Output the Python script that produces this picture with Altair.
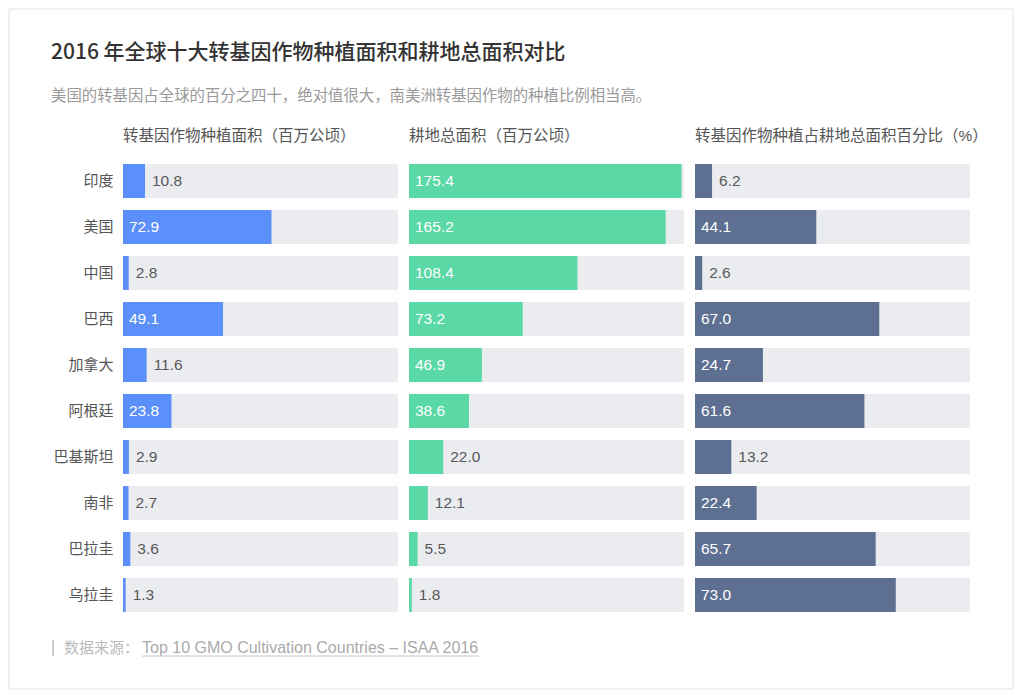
import altair as alt
import pandas as pd

countries = ["印度", "美国", "中国", "巴西", "加拿大", "阿根廷", "巴基斯坦", "南非", "巴拉圭", "乌拉圭"]
gmo_area = [10.8, 72.9, 2.8, 49.1, 11.6, 23.8, 2.9, 2.7, 3.6, 1.3]
arable_area = [175.4, 165.2, 108.4, 73.2, 46.9, 38.6, 22.0, 12.1, 5.5, 1.8]
gmo_share = [6.2, 44.1, 2.6, 67.0, 24.7, 61.6, 13.2, 22.4, 65.7, 73.0]

panel_titles = ["转基因作物种植面积（百万公顷）", "耕地总面积（百万公顷）", "转基因作物种植占耕地总面积百分比（%）"]
panel_colors = ["#5B8FF9", "#5AD8A6", "#5D7092"]
panel_max = [135, 177, 100]

title_text = "2016 年全球十大转基因作物种植面积和耕地总面积对比"
subtitle_text = "美国的转基因占全球的百分之四十，绝对值很大，南美洲转基因作物的种植比例相当高。"
source_label = "数据来源："
source_link = "Top 10 GMO Cultivation Countries – ISAA 2016"

W, H = 275, 460
FONT = "Liberation Sans, Noto Sans CJK SC, sans-serif"
CJK = "Noto Sans CJK SC, sans-serif"
INSIDE_PX = 40


def text_layer(txt, x, y, size, color, weight="normal", font=FONT):
    return alt.Chart(pd.DataFrame({"t": [txt]})).mark_text(
        align="left", baseline="middle", fontSize=size, color=color,
        fontWeight=weight, font=font
    ).encode(x=alt.value(x), y=alt.value(y), text="t:N")


def panel(i, values):
    df = pd.DataFrame({"country": countries, "v": values})
    base = alt.Chart(df)
    m = panel_max[i]
    if i == 0:
        axis = alt.Axis(title=None, domain=False, ticks=False, labelFontSize=15,
                        labelColor="#555555", labelPadding=10, labelFont=FONT)
    else:
        axis = None
    y = alt.Y("country:N", sort=countries,
              scale=alt.Scale(paddingInner=0.26, paddingOuter=0.13), axis=axis)
    bg = base.mark_bar(color="#EAECEF").encode(y=y, x=alt.value(0), x2=alt.value(W))
    bar = base.mark_bar(color=panel_colors[i]).encode(
        y=y, x=alt.X("v:Q", scale=alt.Scale(domain=[0, m], nice=False, zero=True), axis=None)
    )
    inside = base.transform_filter(f"datum.v / {m} * {W} >= {INSIDE_PX}").mark_text(
        align="left", baseline="middle", color="white", fontSize=15.5, font=FONT
    ).encode(y=y, x=alt.value(6), text=alt.Text("v:Q", format=".1f"))
    outside = base.transform_filter(f"datum.v / {m} * {W} < {INSIDE_PX}").mark_text(
        align="left", baseline="middle", dx=7, color="#595959", fontSize=15.5, font=FONT
    ).encode(y=y, x="v:Q", text=alt.Text("v:Q", format=".1f"))
    ptitle = text_layer(panel_titles[i], 0, -22, 15.5, "#555555")
    layers = [bg, bar, inside, outside, ptitle]
    if i == 0:
        one = pd.DataFrame({"a": [0]})
        frame = alt.Chart(one).mark_rect(fillOpacity=0, stroke="#E3E3E3", strokeWidth=1).encode(
            x=alt.value(-114), x2=alt.value(890), y=alt.value(-149), y2=alt.value(531)
        )
        t1 = text_layer(title_text, -72, -105, 21, "#333333", 500, CJK)
        t2 = text_layer(subtitle_text, -72, -62, 15.4, "#9A9A9A")
        src_bar = alt.Chart(one).mark_rule(color="#CCCCCC", strokeWidth=2).encode(
            x=alt.value(-70), y=alt.value(482), y2=alt.value(498)
        )
        src_lab = text_layer(source_label, -59, 490, 15, "#BBBBBB")
        src_link = text_layer(source_link, 19, 490, 16, "#AAAAAA")
        underline = alt.Chart(one).mark_rule(color="#C8C8C8", strokeWidth=1).encode(
            x=alt.value(19), x2=alt.value(356), y=alt.value(498)
        )
        layers = [frame, t1, t2, src_bar, src_lab, src_link, underline] + layers
    return alt.layer(*layers).properties(width=W, height=H)


chart = alt.hconcat(
    panel(0, gmo_area), panel(1, arable_area), panel(2, gmo_share),
    spacing=11, bounds="flush", padding=0, background="white"
).configure_view(strokeWidth=0, stroke="transparent")

chart.save("out.html", embed_options={"renderer": "svg", "actions": False})
